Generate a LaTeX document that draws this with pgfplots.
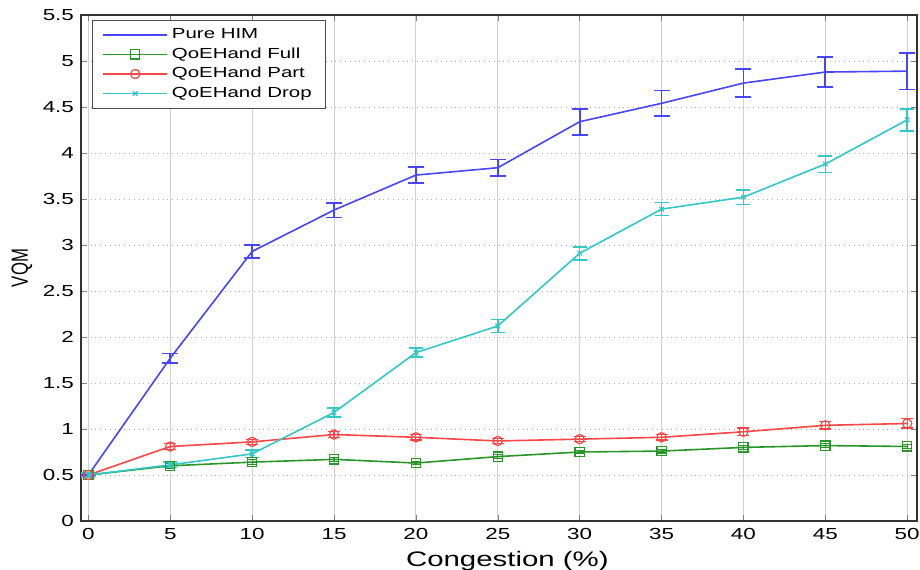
\documentclass[border=0pt]{standalone}
\usepackage{fontspec}
\setmainfont{Liberation Sans}[FakeStretch=1.4]
\newfontfamily\ylabfont{Liberation Sans}[FakeStretch=0.714]
\usepackage{pgfplots}
\usepackage{pgfplotstable}
\pgfplotsset{compat=1.18}
\definecolor{cblue}{RGB}{70,70,250}
\definecolor{cgreen}{RGB}{40,150,40}
\definecolor{cred}{RGB}{250,70,70}
\definecolor{ccyan}{RGB}{50,200,200}
\pgfplotstableread{
x y e
0 0.50 0.0
5 1.77 0.05
10 2.93 0.07
15 3.38 0.08
20 3.76 0.09
25 3.84 0.09
30 4.34 0.14
35 4.54 0.14
40 4.76 0.15
45 4.88 0.16
50 4.89 0.20
}\him
\pgfplotstableread{
x y e
0 0.50 0.02
5 0.60 0.03
10 0.64 0.03
15 0.67 0.02
20 0.63 0.02
25 0.70 0.02
30 0.75 0.02
35 0.76 0.02
40 0.80 0.02
45 0.82 0.02
50 0.81 0.02
}\full
\pgfplotstableread{
x y e
0 0.50 0.02
5 0.81 0.03
10 0.86 0.03
15 0.94 0.03
20 0.91 0.03
25 0.87 0.03
30 0.89 0.03
35 0.91 0.03
40 0.97 0.04
45 1.04 0.04
50 1.06 0.05
}\part
\pgfplotstableread{
x y e
0 0.50 0.02
5 0.61 0.03
10 0.73 0.04
15 1.18 0.05
20 1.83 0.05
25 2.12 0.07
30 2.91 0.07
35 3.39 0.07
40 3.52 0.08
45 3.88 0.09
50 4.36 0.12
}\drop
\begin{document}
\begin{tikzpicture}
\begin{axis}[
  scale only axis,
  width=418pt, height=253pt,
  xmin=-0.45, xmax=50.6,
  ymin=0, ymax=5.5,
  xtick={0,5,...,50},
  ytick={0,0.5,...,5.5},
  yticklabels={0,0.5,1,1.5,2,2.5,3,3.5,4,4.5,5,5.5},
  tick align=inside,
  tick pos=both,
  major tick length=3pt,
  /pgf/number format/assume math mode=true,
  tick label style={font=\fontsize{8}{9}\selectfont},
  xmajorgrids, ymajorgrids,
  x grid style={lightgray!70, line width=0.4pt},
  y grid style={gray!60, dotted, line width=0.5pt},
  axis line style={black!80, line width=0.7pt},
  xlabel={Congestion (\%)},
  xlabel style={font=\fontsize{10.5}{12}\selectfont, at={(axis description cs:0.51,0)}, anchor=north, yshift=-11.5pt},
  ylabel={VQM},
  ylabel style={font=\ylabfont\fontsize{11.7}{13}\selectfont, at={(axis description cs:-0.0706,0.5)}, anchor=center},
  legend style={at={(rel axis cs:0.013,0.99)}, anchor=north west, font=\fontsize{7.3}{8.5}\selectfont, draw=black!70, line width=0.5pt, inner xsep=5pt, inner ysep=2pt, row sep=-1pt},
  legend cell align=left,
  legend image code/.code={\draw[mark repeat=2, mark phase=2, #1] plot coordinates {(0pt,0pt) (16pt,0pt) (32pt,0pt)};},
  every axis plot/.append style={line width=0.8pt},
]
\addplot[cblue, no marks, error bars/.cd, y dir=both, y explicit, error bar style={cblue, line width=0.9pt}, error mark options={cblue, line width=0.9pt, mark size=4pt, rotate=90}] table[x=x, y=y, y error=e] {\him};
\addlegendentry{Pure HIM}
\addplot[cgreen, mark=square, mark size=2.3pt, mark options={solid, line width=0.6pt}, error bars/.cd, y dir=both, y explicit, error bar style={cgreen, line width=0.6pt}, error mark options={cgreen, line width=0.6pt, mark size=2.5pt, rotate=90}] table[x=x, y=y, y error=e] {\full};
\addlegendentry{QoEHand Full}
\addplot[cred, mark=o, mark size=2.3pt, mark options={solid, line width=0.6pt}, error bars/.cd, y dir=both, y explicit, error bar style={cred, line width=0.6pt}, error mark options={cred, line width=0.6pt, mark size=3pt, rotate=90}] table[x=x, y=y, y error=e] {\part};
\addlegendentry{QoEHand Part}
\addplot[ccyan, mark=x, mark size=1.6pt, mark options={solid, line width=0.6pt}, error bars/.cd, y dir=both, y explicit, error bar style={ccyan, line width=0.8pt}, error mark options={ccyan, line width=0.8pt, mark size=3.5pt, rotate=90}] table[x=x, y=y, y error=e] {\drop};
\addlegendentry{QoEHand Drop}
\end{axis}
\pgfresetboundingbox
\path[use as bounding box] ([shift={(-40.5pt,-24pt)}]current axis.south west) rectangle ([shift={(419.5pt,260.5pt)}]current axis.south west);
\end{tikzpicture}
\end{document}
